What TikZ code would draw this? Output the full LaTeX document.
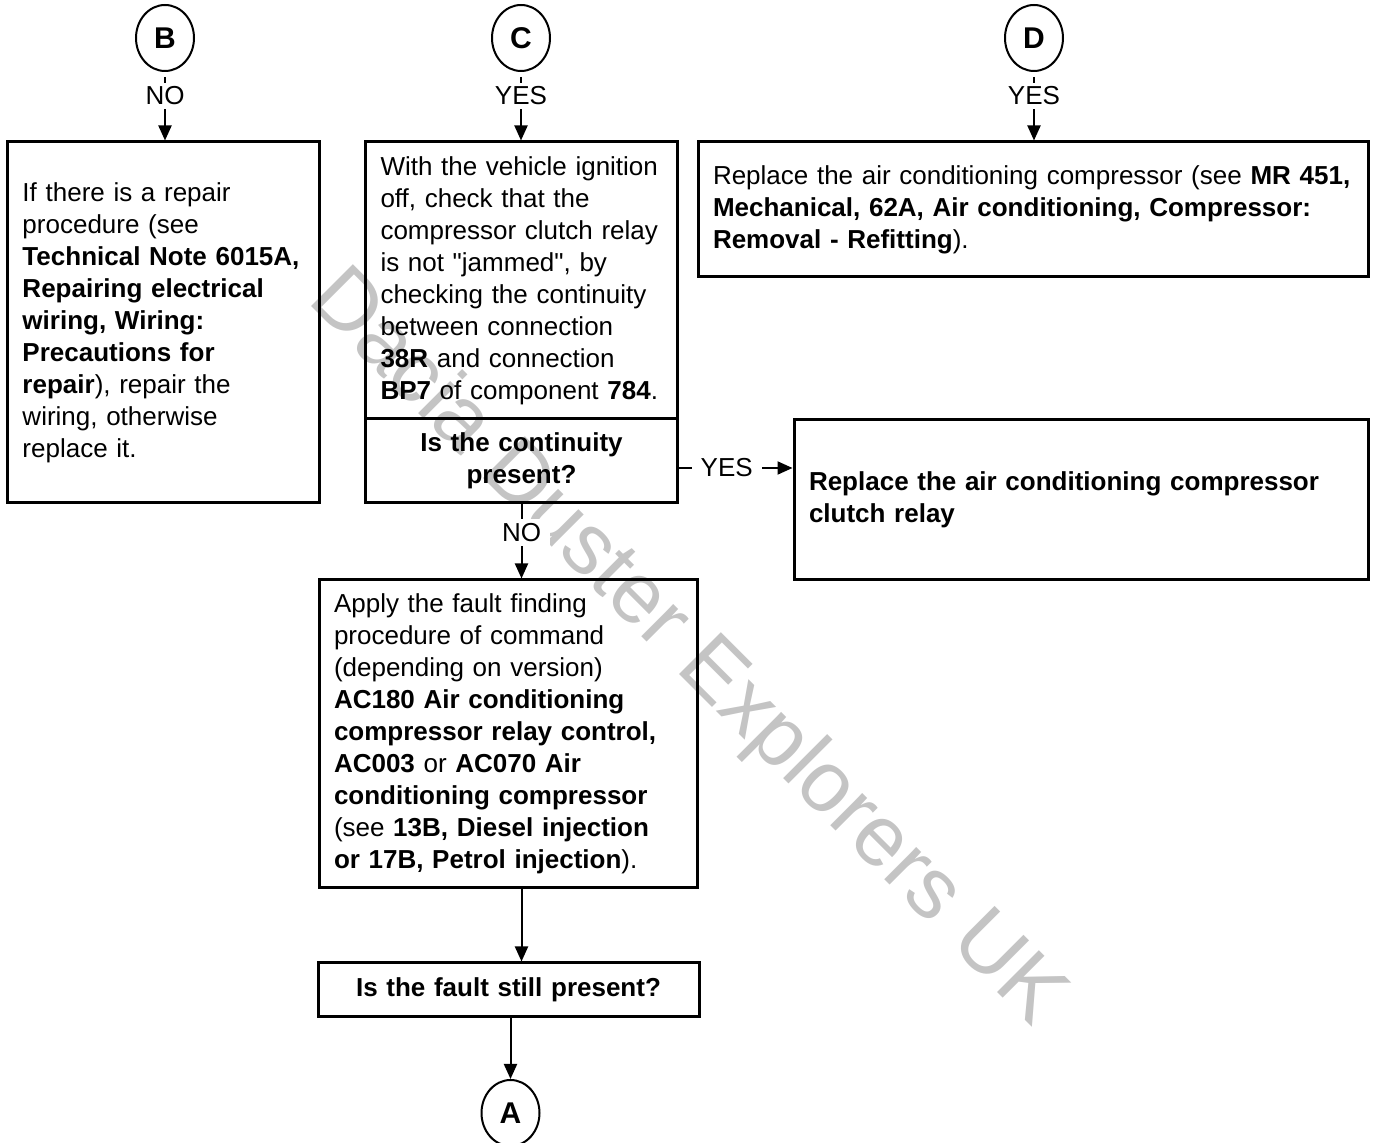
\documentclass[tikz,border=0pt]{standalone}
\usepackage{fontspec}
\setmainfont{Liberation Sans}[Ligatures=TeXOff]
\usepackage{tikz}
\definecolor{wmgrey}{HTML}{C4C4C4}
\usetikzlibrary{positioning,arrows.meta,shapes.geometric}
\tikzset{
  box/.style={draw,line width=1.5pt,align=left,inner xsep=7.5pt,inner ysep=0pt,
              font=\fontsize{13pt}{16pt}\selectfont,text width=#1},
  box/.default=141pt,
  askbox/.style={box=#1,align=center,font=\fontsize{13pt}{16pt}\selectfont\bfseries},
  askbox/.default=141pt,
  jump/.style={ellipse,draw,line width=1pt,minimum width=29pt,minimum height=33pt,inner sep=0pt,
               font=\fontsize{15pt}{16pt}\selectfont\bfseries},
  flow/.style={-{Triangle[length=7.5pt,width=6.5pt]},line width=1pt},
  answer/.style={fill=white,inner xsep=4.5pt,inner ysep=2pt,font=\fontsize{13pt}{16pt}\selectfont},
  wm/.style={text=wmgrey,inner sep=0pt,font=\fontsize{43pt}{48pt}\selectfont},
}

\begin{document}
\begin{tikzpicture}[x=0.5pt,y=-0.5pt]
  \useasboundingbox (0,0) rectangle (1373,1143);
  % watermark, set first so the drawing lies over it
  \node[wm, anchor=base west, rotate=-45] (mark) at (306,301) {Dacia Duster Explorers UK};
  % entry points
  \node[jump] (B) at (165,38) {B};
  \node[jump] (C) at (521,38) {C};
  \node[jump] (D) at (1034,38) {D};
  % boxes
  \node[box=141pt, minimum height=180.5pt] (repair) at (163.5,322.5) {If there is a repair\\ procedure (see\\
     \textbf{Technical Note 6015A,}\\ \textbf{Repairing electrical}\\ \textbf{wiring, Wiring:}\\
     \textbf{Precautions for}\\ \textbf{repair}), repair the\\ wiring, otherwise\\ replace it.};
  \node[box=141pt, minimum height=138.5pt] (check) at (521.5,280.5) {With the vehicle ignition\\ off, check that the\\
     compressor clutch relay\\ is not "jammed", by\\ checking the continuity\\ between connection\\
     \textbf{38R} and connection\\ \textbf{BP7} of component \textbf{784}.};
  \node[askbox=141pt, minimum height=42pt, below=-1.5pt of check] (cont) {Is the continuity\\ present?};
  \node[box=320pt, minimum height=67.5pt] (comp) at (1033,209.5) {Replace the air conditioning compressor (see \textbf{MR 451,}\\
     \textbf{Mechanical, 62A, Air conditioning, Compressor:}\\ \textbf{Removal - Refitting}).};
  \node[box=272pt, minimum height=80pt] (relay) at (1081,500) {\textbf{Replace the air conditioning compressor}\\
     \textbf{clutch relay}};
  \node[box=174pt, minimum height=154pt] (apply) at (508,734) {Apply the fault finding\\ procedure of command\\
     (depending on version)\\ \textbf{AC180 Air conditioning}\\ \textbf{compressor relay control,}\\
     \textbf{AC003} or \textbf{AC070 Air}\\ \textbf{conditioning compressor}\\
     (see \textbf{13B, Diesel injection}\\ \textbf{or 17B, Petrol injection}).};
  \node[askbox=175.5pt, minimum height=27pt] (still) at (508.5,990) {Is the fault still present?};
  \node[jump] (A) at (510.5,1113) {A};
  % arrows
  \draw[flow, shorten <=2.5pt] (B.south) -- node[answer, pos=0.35] {NO} (B.south |- repair.north);
  \draw[flow, shorten <=2.5pt] (C.south) -- node[answer, pos=0.35] {YES} (C.south |- check.north);
  \draw[flow, shorten <=2.5pt] (D.south) -- node[answer, pos=0.35] {YES} (D.south |- comp.north);
  \draw[flow] (cont.south) -- node[answer, pos=0.38] {NO} (cont.south |- apply.north);
  \draw[flow] ([yshift=-3.5pt]cont.east) -- node[answer, pos=0.42] {YES} ([yshift=-3.5pt]cont.east -| relay.west);
  \draw[flow] (apply.south -| cont.south) -- (still.north -| cont.south);
  \draw[flow] (still.south -| A.north) -- (A.north);
\end{tikzpicture}
\end{document}
